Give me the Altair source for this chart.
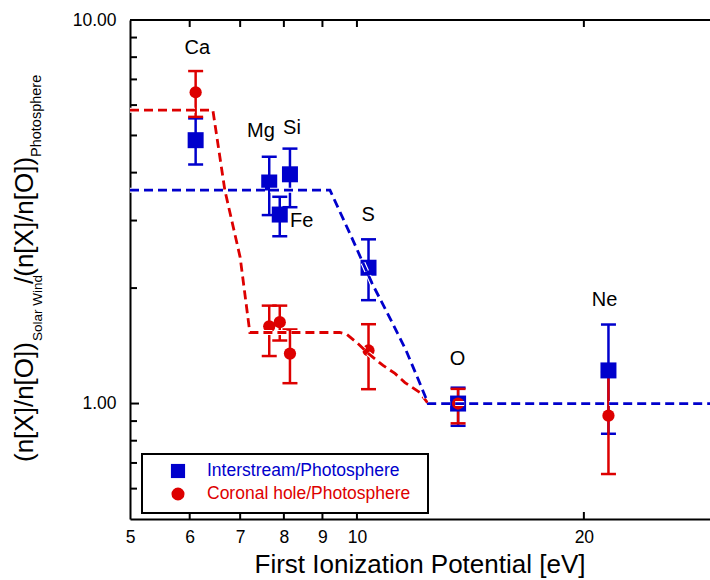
import altair as alt
import pandas as pd

# ---------------- data ----------------
elements = ["Ca", "Mg", "Fe", "Si", "S", "O", "Ne"]
fip = [6.11, 7.65, 7.90, 8.15, 10.36, 13.62, 21.56]

inter_val = [4.86, 3.77, 3.11, 3.96, 2.26, 1.00, 1.22]
inter_lo = [4.20, 3.10, 2.73, 3.25, 1.86, 0.875, 0.834]
inter_hi = [5.54, 4.40, 3.46, 4.62, 2.68, 1.10, 1.607]

ch_val = [6.48, 1.59, 1.63, 1.35, 1.375, 1.00, 0.93]
ch_lo = [5.59, 1.33, 1.46, 1.13, 1.09, 0.888, 0.655]
ch_hi = [7.36, 1.80, 1.80, 1.56, 1.61, 1.092, 1.21]

label_x = [6.14, 7.46, 8.45, 8.20, 10.35, 13.60, 21.30]
label_y = [8.45, 5.13, 3.00, 5.22, 3.10, 1.31, 1.86]

model_inter_x = [5.0, 9.21, 9.85, 10.47, 11.13, 11.62, 12.05, 12.43, 29.4]
model_inter_y = [3.60, 3.60, 2.70, 2.06, 1.63, 1.375, 1.16, 1.00, 1.00]
model_ch_x = [5.0, 6.44, 6.68, 7.00, 7.21, 9.49, 9.70, 10.03, 10.35, 10.83, 11.23, 11.58, 12.12, 12.43]
model_ch_y = [5.82, 5.82, 3.60, 2.405, 1.532, 1.532, 1.514, 1.434, 1.351, 1.257, 1.198, 1.134, 1.068, 1.00]

x_tick_labels = [5, 6, 7, 8, 9, 10, 20]
x_ticks = [6, 7, 8, 9, 10, 20]
y_tick_labels = [1, 10]
y_minor = [0.6, 0.7, 0.8, 0.9, 2, 3, 4, 5, 6, 7, 8, 9]
y_major = [1]

legend_labels = ["Interstream/Photosphere", "Coronal hole/Photosphere"]

BLUE = "#0000CC"
RED = "#DD0000"
FONT = "Liberation Sans"
W, H = 580, 499

xs = alt.Scale(type="log", domain=[5, 29.4], nice=False, zero=False)
ys = alt.Scale(type="log", domain=[0.5, 10], nice=False, zero=False)

AXX = alt.Axis(values=x_tick_labels, format="d", ticks=False, domain=True,
               domainColor="black", domainWidth=2, labelFontSize=17.5, labelFont=FONT,
               labelColor="black", labelPadding=9, grid=False, title=None,
               labelFlush=False, labelOverlap=False)
AXY = alt.Axis(values=y_tick_labels, format=".2f", ticks=False, domain=True,
               domainColor="black", domainWidth=2, labelFontSize=17.5, labelFont=FONT,
               labelColor="black", labelPadding=14, grid=False, title=None,
               labelFlush=False, labelOverlap=False)

pts = pd.DataFrame({
    "el": elements, "fip": fip,
    "iv": inter_val, "ilo": inter_lo, "ihi": inter_hi,
    "cv": ch_val, "clo": ch_lo, "chi": ch_hi,
    "lx": label_x, "ly": label_y,
})
m_inter = pd.DataFrame({"x": model_inter_x, "y": model_inter_y})
m_ch = pd.DataFrame({"x": model_ch_x, "y": model_ch_y})
one = pd.DataFrame({"a": [0]})


def X(f):
    return alt.X(f, type="quantitative", scale=xs, axis=AXX)


def Y(f):
    return alt.Y(f, type="quantitative", scale=ys, axis=AXY)


top_line = alt.Chart(one).mark_rule(color="black", strokeWidth=2).encode(
    x=alt.value(0), x2=alt.value(W), y=alt.value(0))

xt = pd.DataFrame({"v": x_ticks})
bottom_ticks = alt.Chart(xt).mark_rule(color="black", strokeWidth=2).encode(
    x=X("v"), y=alt.value(H), y2=alt.value(H - 7))
top_ticks = alt.Chart(xt).mark_rule(color="black", strokeWidth=2).encode(
    x=X("v"), y=alt.value(0), y2=alt.value(7))
left_minor = alt.Chart(pd.DataFrame({"v": y_minor})).mark_rule(color="black", strokeWidth=2).encode(
    y=Y("v"), x=alt.value(0), x2=alt.value(7))
left_major = alt.Chart(pd.DataFrame({"v": y_major})).mark_rule(color="black", strokeWidth=2).encode(
    y=Y("v"), x=alt.value(0), x2=alt.value(9))

base = alt.Chart(pts)
blue_bar = base.mark_rule(color=BLUE, strokeWidth=2.5).encode(
    x=X("fip"), y=Y("ilo"), y2="ihi")
blue_cap_lo = base.mark_tick(color=BLUE, orient="horizontal", size=15, thickness=2.5, opacity=1).encode(
    x=X("fip"), y=Y("ilo"))
blue_cap_hi = base.mark_tick(color=BLUE, orient="horizontal", size=15, thickness=2.5, opacity=1).encode(
    x=X("fip"), y=Y("ihi"))
red_bar = base.mark_rule(color=RED, strokeWidth=2.5).encode(
    x=X("fip"), y=Y("clo"), y2="chi")
red_cap_lo = base.mark_tick(color=RED, orient="horizontal", size=15, thickness=2.5, opacity=1).encode(
    x=X("fip"), y=Y("clo"))
red_cap_hi = base.mark_tick(color=RED, orient="horizontal", size=15, thickness=2.5, opacity=1).encode(
    x=X("fip"), y=Y("chi"))
squares = base.mark_square(color=BLUE, size=256, opacity=1).encode(
    x=X("fip"), y=Y("iv"))
circles = base.mark_circle(color=RED, size=150, opacity=1).encode(
    x=X("fip"), y=Y("cv"))

labels = base.mark_text(font=FONT, fontSize=20, color="black", align="center", baseline="middle").encode(
    x=X("lx"), y=Y("ly"), text="el:N")

DASH = [9, 5]


def model(df, color):
    halo = alt.Chart(df).mark_line(color="white", strokeWidth=5, strokeDash=DASH).encode(
        x=X("x"), y=Y("y"))
    line = alt.Chart(df).mark_line(color=color, strokeWidth=2.8, strokeDash=DASH).encode(
        x=X("x"), y=Y("y"))
    return [halo, line]


# legend (drawn manually)
leg_box = alt.Chart(one).mark_rect(fill="white", stroke="black", strokeWidth=2).encode(
    x=alt.value(12), x2=alt.value(298), y=alt.value(434), y2=alt.value(493))
leg_sq = alt.Chart(one).mark_square(color=BLUE, size=200, opacity=1).encode(
    x=alt.value(48), y=alt.value(451))
leg_ci = alt.Chart(one).mark_circle(color=RED, size=170, opacity=1).encode(
    x=alt.value(48), y=alt.value(474))
leg_t1 = alt.Chart(one).mark_text(text=legend_labels[0], font=FONT, fontSize=17.5, color=BLUE,
                                  align="left", baseline="middle").encode(x=alt.value(77), y=alt.value(451))
leg_t2 = alt.Chart(one).mark_text(text=legend_labels[1], font=FONT, fontSize=17.5, color=RED,
                                  align="left", baseline="middle").encode(x=alt.value(77), y=alt.value(474))

# axis titles
x_title = alt.Chart(one).mark_text(text="First Ionization Potential [eV]", font=FONT, fontSize=26,
                                   color="black", align="center", baseline="alphabetic").encode(
    x=alt.value(W / 2), y=alt.value(553))


def ytxt(s, size, x, y):
    return alt.Chart(one).mark_text(text=s, font=FONT, fontSize=size, color="black", angle=270,
                                    align="left", baseline="alphabetic").encode(
        x=alt.value(x), y=alt.value(y))


y_title = [
    ytxt("(n[X]/n[O])", 26, -97, 442),
    ytxt("Solar Wind", 13.5, -88, 321),
    ytxt("/(n[X]/n[O])", 26, -97, 264),
    ytxt("Photosphere", 14.5, -89, 137),
]

layers = ([top_line, bottom_ticks, top_ticks, left_minor, left_major,
           blue_bar, blue_cap_lo, blue_cap_hi, red_bar, red_cap_lo, red_cap_hi,
           squares, circles]
          + model(m_ch, RED) + model(m_inter, BLUE)
          + [labels, leg_box, leg_sq, leg_ci, leg_t1, leg_t2, x_title] + y_title)

chart = alt.layer(*layers).properties(
    width=W, height=H,
    padding={"left": 130, "top": 20, "right": 0, "bottom": 61},
    autosize=alt.AutoSizeParams(type="none"),
    background="white",
).configure_view(stroke=None)

chart.save("out.html", embed_options={"renderer": "svg", "actions": False})
